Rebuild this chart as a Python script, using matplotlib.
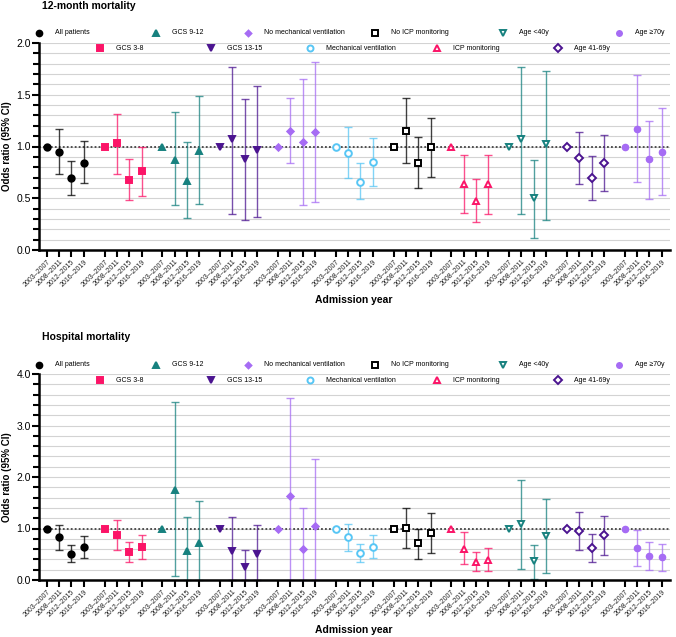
import matplotlib.pyplot as plt
import numpy as np
from matplotlib.ticker import MultipleLocator, FormatStrFormatter

plt.rcParams['font.family'] = ['Liberation Sans', 'DejaVu Sans']

periods = ['2003–2007', '2008–2011', '2012–2015', '2016–2019']
groups = ['All patients', 'GCS 3-8', 'GCS 9-12', 'GCS 13-15',
          'No mechanical ventilation', 'Mechanical ventilation',
          'No ICP monitoring', 'ICP monitoring',
          'Age <40y', 'Age 41-69y', 'Age ≥70y']

# 12-month mortality (2003-2007 = reference, no CI)
or_12m = [[1.0, 0.95, 0.70, 0.84],
          [1.0, 1.03, 0.68, 0.76],
          [1.0, 0.87, 0.67, 0.96],
          [1.0, 1.07, 0.88, 0.97],
          [1.0, 1.15, 1.04, 1.14],
          [1.0, 0.94, 0.66, 0.85],
          [1.0, 1.15, 0.84, 1.00],
          [1.0, 0.64, 0.47, 0.64],
          [1.0, 1.07, 0.50, 1.02],
          [1.0, 0.89, 0.70, 0.84],
          [1.0, 1.17, 0.88, 0.95]]
lo_12m = [[1.0, 0.73, 0.53, 0.65],
          [1.0, 0.73, 0.48, 0.52],
          [1.0, 0.43, 0.31, 0.44],
          [1.0, 0.35, 0.29, 0.32],
          [1.0, 0.84, 0.43, 0.46],
          [1.0, 0.70, 0.49, 0.62],
          [1.0, 0.84, 0.60, 0.71],
          [1.0, 0.36, 0.27, 0.35],
          [1.0, 0.35, 0.12, 0.29],
          [1.0, 0.64, 0.48, 0.57],
          [1.0, 0.66, 0.49, 0.53]]
hi_12m = [[1.0, 1.17, 0.86, 1.05],
          [1.0, 1.31, 0.88, 1.00],
          [1.0, 1.33, 1.04, 1.49],
          [1.0, 1.77, 1.46, 1.58],
          [1.0, 1.47, 1.65, 1.82],
          [1.0, 1.19, 0.84, 1.08],
          [1.0, 1.47, 1.09, 1.28],
          [1.0, 0.92, 0.69, 0.92],
          [1.0, 1.77, 0.87, 1.73],
          [1.0, 1.14, 0.91, 1.11],
          [1.0, 1.69, 1.25, 1.37]]

# Hospital mortality
or_hosp = [[1.0, 0.84, 0.51, 0.65],
           [1.0, 0.87, 0.54, 0.64],
           [1.0, 1.75, 0.56, 0.71],
           [1.0, 0.56, 0.25, 0.50],
           [1.0, 1.63, 0.60, 1.05],
           [1.0, 0.83, 0.52, 0.65],
           [1.0, 1.01, 0.71, 0.92],
           [1.0, 0.61, 0.35, 0.39],
           [1.0, 1.09, 0.36, 0.86],
           [1.0, 0.95, 0.62, 0.87],
           [1.0, 0.62, 0.47, 0.44]]
lo_hosp = [[1.0, 0.58, 0.34, 0.43],
           [1.0, 0.58, 0.34, 0.40],
           [1.0, 0.08, 0.0, 0.0],
           [1.0, 0.0, 0.0, 0.0],
           [1.0, 0.0, 0.0, 0.0],
           [1.0, 0.57, 0.35, 0.42],
           [1.0, 0.62, 0.41, 0.53],
           [1.0, 0.31, 0.17, 0.18],
           [1.0, 0.21, 0.01, 0.14],
           [1.0, 0.58, 0.34, 0.49],
           [1.0, 0.27, 0.19, 0.18]]
hi_hosp = [[1.0, 1.07, 0.67, 0.85],
           [1.0, 1.16, 0.73, 0.87],
           [1.0, 3.45, 1.23, 1.53],
           [1.0, 1.22, 0.59, 1.07],
           [1.0, 3.53, 1.39, 2.34],
           [1.0, 1.08, 0.69, 0.87],
           [1.0, 1.40, 0.99, 1.31],
           [1.0, 0.94, 0.55, 0.63],
           [1.0, 1.94, 0.67, 1.58],
           [1.0, 1.32, 0.89, 1.25],
           [1.0, 0.97, 0.73, 0.69]]

colors = ['black', '#fb1467', '#17817f', '#4b1490', '#a66cf4', '#57c6f5',
          'black', '#fb1467', '#17817f', '#4b1490', '#a66cf4']
markers = ['o', 's', '^', 'v', 'D', 'o', 's', '^', 'v', 'D', (8, 1, 0)]
filled = [True, True, True, True, True, False, False, False, False, False, True]
msizes = [4.6, 4.6, 4.6, 4.6, 3.3, 4.8, 4.8, 4.8, 4.8, 4.0, 5.0]

W, H = 676, 637
fig = plt.figure(figsize=(W / 100, H / 100), dpi=100)


def fx(px):
    return px / W


def fy(py):
    return 1 - py / H


GAP = 4.69
xpos = np.array([[g * GAP + i for i in range(4)] for g in range(len(groups))])

leg_x = [39, 100, 156, 211, 248, 310, 375, 437, 503, 558, 619]


def panel(top, bottom, ymax, major, minor, ors, los, his, title, leg_y1):
    ax = fig.add_axes([fx(39), fy(bottom), fx(670) - fx(39), fy(top) - fy(bottom)])
    ax.set_xlim(-0.63, xpos[-1, -1] + 0.67)
    ax.set_ylim(0, ymax)
    ax.yaxis.set_major_locator(MultipleLocator(major))
    ax.yaxis.set_minor_locator(MultipleLocator(minor))
    ax.yaxis.set_major_formatter(FormatStrFormatter('%.1f'))
    ax.grid(True, axis='y', which='both', color='#d3d3d3', lw=0.8)
    ax.set_axisbelow(True)
    ax.axhline(1.0, color='#444444', lw=1.3, ls=(0, (1, 1.2)), zorder=1.5)
    for s in ['top', 'right']:
        ax.spines[s].set_visible(False)
    for s in ['left', 'bottom']:
        ax.spines[s].set_linewidth(1.8)
    ax.tick_params(axis='y', which='major', length=5, width=1.5, labelsize=7.5, pad=1)
    ax.tick_params(axis='y', which='minor', length=4, width=1.5)
    ax.tick_params(axis='x', length=5, width=1.5, labelsize=5, pad=1)
    ax.set_xticks(xpos.ravel())
    ax.set_xticklabels(periods * len(groups), rotation=45, ha='right',
                       rotation_mode='anchor', color='#222222')

    for g in range(len(groups)):
        x = xpos[g]
        o = np.array(ors[g])
        lo = np.array(los[g])
        hi = np.array(his[g])
        ax.errorbar(x[1:], o[1:], yerr=[o[1:] - lo[1:], hi[1:] - o[1:]], fmt='none',
                    ecolor=colors[g], elinewidth=1, capsize=3, capthick=1,
                    alpha=0.75, zorder=2, clip_on=False)
        ax.plot(x, o, ls='none', marker=markers[g], ms=msizes[g],
                mfc=colors[g] if filled[g] else 'white', mec=colors[g],
                mew=1.4, zorder=3, clip_on=False)

    # staggered legend in two rows
    for g, name in enumerate(groups):
        ly = leg_y1 if g % 2 == 0 else leg_y1 + 15
        ax.plot([fx(leg_x[g])], [fy(ly)], transform=fig.transFigure, ls='none',
                marker=markers[g], ms=msizes[g] * 0.9,
                mfc=colors[g] if filled[g] else 'white', mec=colors[g],
                mew=1.4, clip_on=False)
        fig.text(fx(leg_x[g] + 16), fy(ly), name, fontsize=5, va='center', ha='left')

    fig.text(fx(42), fy(top - 37), title, fontsize=7.5, fontweight='bold',
             va='center', ha='left')
    fig.text(fx(7), fy((top + bottom) / 2), 'Odds ratio (95% CI)', fontsize=7,
             fontweight='bold', rotation=90, va='center', ha='center')
    fig.text(fx(354), fy(bottom + 50), 'Admission year', fontsize=7.5,
             fontweight='bold', va='center', ha='center')
    return ax


panel(43, 250, 2.0, 0.5, 0.1, or_12m, lo_12m, hi_12m, '12-month mortality', 33)
panel(374, 580, 4.0, 1.0, 0.2, or_hosp, lo_hosp, hi_hosp, 'Hospital mortality', 365)

fig.savefig('out.png', dpi=100)
